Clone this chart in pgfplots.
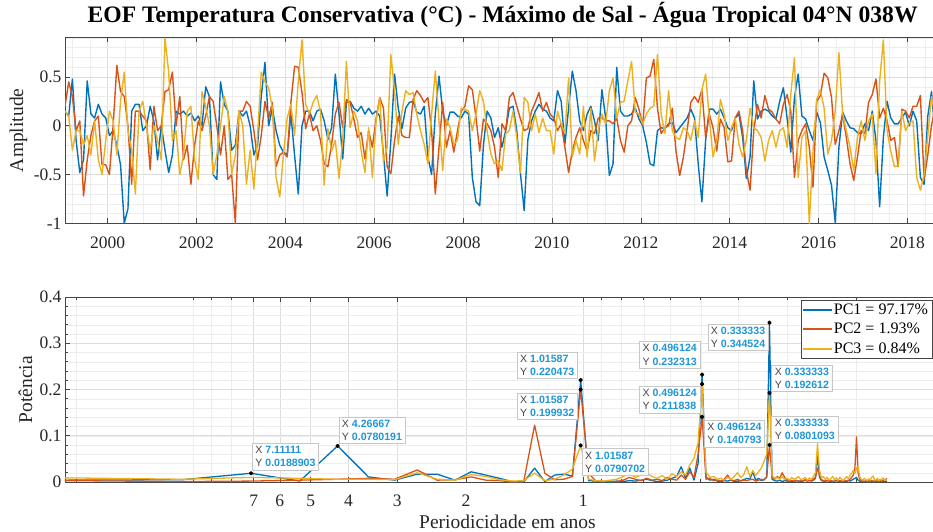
\documentclass[border=0pt]{standalone}
\usepackage{fontspec}
\setmainfont{Liberation Serif}
\setsansfont{Liberation Sans}
\usepackage{pgfplots}
\usepackage{pgfplotstable}
\pgfplotsset{compat=1.18}

\definecolor{pcblue}{RGB}{0,114,189}
\definecolor{pcred}{RGB}{217,83,25}
\definecolor{pcyellow}{RGB}{237,177,32}
\definecolor{gridmaj}{RGB}{221,221,221}
\definecolor{gridmin}{RGB}{237,237,237}
\definecolor{axgray}{RGB}{70,70,70}
\definecolor{tipblue}{RGB}{30,150,215}
\definecolor{tipgray}{RGB}{70,70,70}

% monthly principal components, m = 0 is Jan 1999
\pgfplotstableread{
m pc1 pc2 pc3
0 0.15 0.2 0.15
1 0.1 0.45 0.1
2 0.48 0.3 -0.25
3 -0.15 -0.05 -0.05
4 -0.48 0.05 -0.05
5 -0.35 -0.72 -0.2
6 0.46 -0.35 -0.1
7 0.12 -0.1 -0.3
8 0.08 0.05 0.05
9 0.22 0.1 -0.35
10 0.12 -0.4 -0.5
11 0.08 -0.4 -0.15
12 -0.1 -0.5 0.15
13 -0.05 0.0 0.05
14 -0.2 0.62 -0.3
15 -0.4 0.35 0.25
16 -1.0 0.3 0.55
17 -0.85 0.0 -0.05
18 0.15 -0.6 -0.25
19 0.22 0.15 -0.7
20 0.22 0.15 0.15
21 -0.05 0.1 0.25
22 0.0 0.05 0.0
23 0.2 -0.45 -0.25
24 0.05 0.2 0.0
25 -0.35 -0.05 -0.15
26 0.0 0.0 -0.35
27 -0.25 0.35 0.9
28 -0.48 0.37 0.55
29 -0.3 0.55 -0.15
30 0.15 0.0 -0.05
31 0.12 0.3 -0.5
32 0.15 -0.35 -0.3
33 0.1 -0.2 0.15
34 0.13 -0.6 0.2
35 0.05 -0.2 -0.35
36 0.1 0.05 -0.55
37 0.0 -0.05 0.35
38 0.4 0.1 0.2
39 0.3 0.3 0.0
40 -0.5 0.25 -0.5
41 -0.55 0.0 -0.3
42 0.45 -0.3 0.0
43 0.22 0.0 0.3
44 0.15 -0.55 0.15
45 -0.25 -0.5 -0.5
46 -0.2 -1.0 -0.3
47 0.15 0.15 0.15
48 0.1 0.15 0.0
49 0.15 0.25 -0.6
50 0.0 0.2 -0.25
51 -0.3 -0.05 -0.65
52 -0.2 -0.35 -0.1
53 0.3 -0.1 0.55
54 0.65 0.25 0.45
55 0.0 0.08 0.39
56 0.18 0.24 0.18
57 -0.05 -0.42 -0.53
58 -0.2 -0.3 -0.73
59 -0.27 -0.27 -0.29
60 -0.3 -0.32 0.08
61 0.12 0.24 0.22
62 -0.3 0.61 -0.1
63 -0.7 0.6 0.46
64 0.0 0.34 0.88
65 0.15 -0.03 0.22
66 0.15 0.12 0.12
67 0.05 -0.05 0.24
68 0.15 0.0 0.31
69 0.17 -0.15 0.14
70 0.05 -0.39 -0.61
71 -0.14 -0.42 -0.03
72 -0.02 -0.19 -0.26
73 0.53 0.12 -0.15
74 0.12 0.24 -0.54
75 -0.34 -0.02 -0.14
76 0.24 0.27 0.66
77 0.25 0.24 -0.02
78 0.18 0.07 0.15
79 0.15 -0.12 0.05
80 0.2 -0.07 -0.26
81 0.12 -0.34 -0.48
82 0.18 -0.05 -0.02
83 0.12 -0.22 -0.53
84 0.15 0.07 0.05
85 0.1 0.29 0.29
86 -0.29 0.18 -0.37
87 -0.72 -0.42 -0.22
88 -0.15 -0.49 0.73
89 0.53 -0.15 0.36
90 0.18 0.1 -0.19
91 -0.03 -0.1 0.15
92 0.18 -0.12 0.36
93 0.24 -0.12 0.32
94 0.25 0.27 0.34
95 0.14 0.36 0.12
96 0.12 0.31 -0.05
97 0.2 0.24 -0.19
98 -0.32 0.29 -0.39
99 -0.5 -0.05 0.12
100 0.12 -0.7 0.56
101 0.51 -0.22 0.05
102 0.15 0.24 -0.46
103 0.0 -0.22 0.07
104 0.14 -0.05 -0.02
105 0.14 -0.27 -0.19
106 0.1 -0.05 -0.15
107 0.08 0.15 0.18
108 0.15 0.2 0.17
109 0.12 0.41 0.15
110 -0.53 0.37 -0.05
111 -0.78 0.08 0.12
112 -0.82 -0.26 0.36
113 -0.2 0.07 0.25
114 0.15 0.02 -0.05
115 0.08 -0.05 -0.29
116 -0.12 -0.22 -0.39
117 -0.02 -0.53 -0.36
118 -0.22 0.02 -0.46
119 -0.05 -0.05 -0.08
120 0.18 0.29 -0.05
121 0.2 0.34 0.15
122 -0.05 0.2 -0.12
123 -0.49 0.07 -0.48
124 -0.87 -0.05 0.29
125 -0.14 -0.03 0.24
126 0.05 0.15 -0.05
127 0.15 0.24 0.12
128 0.22 0.34 -0.07
129 0.17 0.15 0.08
130 0.15 0.24 -0.05
131 0.08 0.12 -0.05
132 0.05 0.08 -0.29
133 0.36 -0.05 0.15
134 0.25 0.02 0.02
135 -0.19 -0.22 -0.08
136 0.18 -0.48 0.49
137 0.56 -0.26 -0.32
138 0.36 -0.12 -0.15
139 0.05 -0.02 -0.29
140 -0.05 -0.15 0.2
141 0.12 -0.26 -0.32
142 0.2 -0.05 0.18
143 0.05 -0.08 -0.36
144 -0.15 0.08 -0.05
145 0.37 0.08 0.12
146 0.08 0.05 0.02
147 -0.51 0.05 0.36
148 -0.39 0.02 0.49
149 0.6 0.08 0.08
150 0.15 -0.15 0.24
151 0.1 -0.27 0.25
152 0.1 0.0 0.46
153 0.12 0.05 0.66
154 0.18 0.29 0.14
155 0.07 0.17 0.12
156 0.0 0.0 0.02
157 -0.17 0.49 0.12
158 -0.39 0.51 0.18
159 -0.41 0.68 0.2
160 -0.05 0.18 0.73
161 -0.02 -0.08 0.12
162 -0.03 -0.02 -0.08
163 0.02 0.0 0.36
164 0.03 0.18 -0.05
165 -0.07 -0.26 -0.12
166 -0.02 -0.51 -0.14
167 0.03 -0.32 -0.02
168 0.08 -0.05 -0.05
169 0.17 0.24 -0.15
170 0.08 0.3 0.05
171 -0.39 0.24 -0.12
172 -0.78 0.37 0.37
173 -0.15 -0.12 0.53
174 0.17 0.12 0.08
175 0.17 -0.02 -0.32
176 0.12 -0.26 -0.15
177 0.17 0.07 0.27
178 0.08 -0.02 0.12
179 -0.02 -0.37 -0.15
180 -0.05 -0.36 -0.02
181 0.08 0.08 0.08
182 0.12 0.15 -0.19
183 -0.12 -0.05 -0.32
184 -0.54 -0.46 -0.15
185 -0.32 -0.66 0.18
186 0.46 -0.05 -0.02
187 0.07 0.22 -0.05
188 0.15 0.08 -0.12
189 0.17 0.31 -0.36
190 0.15 0.17 -0.15
191 0.1 0.14 -0.05
192 0.07 0.07 -0.22
193 0.25 0.02 -0.05
194 0.39 0.22 -0.02
195 0.08 0.32 -0.22
196 -0.27 0.15 0.32
197 0.29 -0.53 0.7
198 0.53 -0.15 -0.53
199 0.1 -0.05 -0.12
200 0.07 0.02 -0.05
201 -0.05 -0.22 -1.0
202 -0.15 -0.63 -0.26
203 0.14 0.25 0.27
204 0.03 0.31 0.37
205 -0.32 0.54 0.18
206 -0.46 0.49 -0.29
207 -0.61 0.29 -0.15
208 -0.99 -0.19 0.15
209 -0.22 -0.05 0.75
210 0.14 0.12 0.12
211 0.05 -0.12 -0.05
212 -0.02 -0.39 -0.22
213 -0.03 -0.56 -0.46
214 -0.07 -0.32 -0.12
215 -0.08 -0.05 0.05
216 0.02 -0.08 -0.15
217 -0.05 0.24 0.05
218 0.15 0.32 0.12
219 -0.15 0.48 -0.49
220 -0.83 0.08 0.46
221 -0.12 0.18 0.88
222 0.25 0.05 -0.05
223 0.08 -0.15 -0.26
224 0.02 -0.12 -0.42
225 0.02 -0.42 -0.41
226 0.08 0.17 0.15
227 0.14 0.15 -0.05
228 0.0 0.08 0.03
229 0.15 0.2 0.05
230 0.05 0.2 -0.53
231 -0.53 0.31 -0.66
232 -0.6 -0.55 -0.5
233 0.1 -0.3 -0.1
234 0.35 0.0 0.3
235 -0.1 0.2 0.1
236 0.05 0.1 -0.1
237 0.1 -0.1 0.05
238 0.0 0.05 0.1
239 0.1 0.0 -0.05
}\pcseries

% power spectrum, f in cycles per year (period = 1/f)
\pgfplotstableread{
f pc1 pc2 pc3
0.046875 0.004 0.003 0.009
0.09375 0.005 0.001 0.006
0.140625 0.0188903 0.002 0.010
0.1875 0.002 0.004 0.008
0.234375 0.0780191 0.006 0.006
0.28125 0.011 0.008 0.006
0.328125 0.004 0.006 0.005
0.375 0.017 0.026 0.020
0.421875 0.017 0.004 0.006
0.46875 0.004 0.005 0.004
0.515625 0.022 0.011 0.016
0.5625 0.015 0.004 0.012
0.609375 0.008 0.003 0.005
0.65625 0.001 0.000 0.002
0.703125 0.000 0.001 0.003
0.75 0.030 0.123 0.019
0.796875 0.001 0.019 0.003
0.84375 0.015 0.005 0.006
0.890625 0.017 0.006 0.015
0.9375 0.013 0.012 0.028
0.984375 0.220473 0.199932 0.0790702
1.03125 0.003 0.018 0.006
1.078125 0.002 0.002 0.003
1.125 0.001 0.001 0.002
1.171875 0.000 0.002 0.004
1.21875 0.002 0.001 0.006
1.265625 0.001 0.004 0.012
1.3125 0.003 0.010 0.018
1.359375 0.002 0.006 0.010
1.40625 0.004 0.003 0.015
1.453125 0.006 0.008 0.020
1.5 0.003 0.004 0.012
1.546875 0.001 0.006 0.008
1.59375 0.002 0.003 0.014
1.640625 0.004 0.010 0.006
1.6875 0.008 0.006 0.018
1.734375 0.012 0.004 0.012
1.78125 0.033 0.015 0.022
1.828125 0.008 0.006 0.015
1.875 0.030 0.022 0.037
1.921875 0.004 0.010 0.051
1.96875 0.040 0.060 0.085
2.015625 0.232313 0.140793 0.211838
2.0625 0.011 0.006 0.022
2.109375 0.004 0.008 0.010
2.15625 0.006 0.003 0.012
2.203125 0.002 0.005 0.006
2.25 0.001 0.002 0.008
2.296875 0.003 0.006 0.004
2.34375 0.002 0.015 0.010
2.390625 0.004 0.004 0.006
2.4375 0.001 0.003 0.012
2.484375 0.002 0.006 0.020
2.53125 0.003 0.002 0.010
2.578125 0.005 0.004 0.016
2.625 0.008 0.003 0.033
2.671875 0.006 0.005 0.012
2.71875 0.022 0.006 0.025
2.765625 0.004 0.002 0.014
2.8125 0.008 0.004 0.022
2.859375 0.003 0.006 0.030
2.90625 0.006 0.004 0.045
2.953125 0.010 0.012 0.060
3.0 0.344524 0.0801093 0.192612
3.046875 0.006 0.010 0.015
3.09375 0.003 0.006 0.008
3.140625 0.002 0.012 0.010
3.1875 0.004 0.008 0.006
3.234375 0.001 0.020 0.012
3.28125 0.003 0.010 0.005
3.328125 0.002 0.004 0.008
3.375 0.001 0.002 0.004
3.421875 0.002 0.003 0.010
3.46875 0.001 0.002 0.006
3.515625 0.003 0.004 0.008
3.5625 0.002 0.001 0.012
3.609375 0.001 0.003 0.005
3.65625 0.002 0.002 0.007
3.703125 0.004 0.005 0.010
3.75 0.002 0.002 0.004
3.796875 0.003 0.004 0.009
3.84375 0.002 0.003 0.006
3.890625 0.004 0.006 0.012
3.9375 0.008 0.010 0.020
3.984375 0.060 0.030 0.083
4.03125 0.010 0.015 0.025
4.078125 0.003 0.005 0.008
4.125 0.002 0.003 0.012
4.171875 0.001 0.002 0.006
4.21875 0.003 0.004 0.010
4.265625 0.002 0.002 0.004
4.3125 0.001 0.003 0.008
4.359375 0.002 0.001 0.012
4.40625 0.001 0.002 0.005
4.453125 0.003 0.004 0.009
4.5 0.002 0.002 0.004
4.546875 0.001 0.003 0.010
4.59375 0.002 0.001 0.006
4.640625 0.001 0.002 0.003
4.6875 0.002 0.003 0.008
4.734375 0.001 0.002 0.012
4.78125 0.003 0.004 0.006
4.828125 0.002 0.006 0.015
4.875 0.004 0.010 0.020
4.921875 0.006 0.015 0.025
4.96875 0.008 0.030 0.018
5.015625 0.010 0.098 0.030
5.0625 0.004 0.020 0.035
5.109375 0.002 0.006 0.012
5.15625 0.001 0.003 0.006
5.203125 0.002 0.002 0.004
5.25 0.001 0.001 0.008
5.296875 0.002 0.003 0.005
5.34375 0.001 0.002 0.003
5.390625 0.003 0.004 0.007
5.4375 0.002 0.002 0.004
5.484375 0.001 0.003 0.010
5.53125 0.002 0.001 0.013
5.578125 0.001 0.002 0.005
5.625 0.002 0.003 0.004
5.671875 0.001 0.002 0.008
5.71875 0.002 0.001 0.003
5.765625 0.001 0.004 0.006
5.8125 0.003 0.002 0.004
5.859375 0.001 0.003 0.009
5.90625 0.002 0.006 0.005
5.953125 0.001 0.004 0.003
6.0 0.002 0.008 0.006
}\spectrum

\pgfplotsset{
  matlab/.style={
    scale only axis,
    axis line style={axgray, line width=0.6pt},
    tick style={axgray, line width=0.6pt},
    major tick length=5pt,
    tick align=inside,
    ticklabel style={font=\fontsize{17.5}{18}\selectfont, text=black!85},
    label style={font=\fontsize{19.5}{20}\selectfont, text=black!85},
    grid=both,
    major grid style={gridmaj, line width=0.6pt},
    minor grid style={gridmin, line width=0.5pt},
    /pgf/number format/assume math mode=true,
    every axis plot/.append style={line width=1.4pt, line join=round},
  },
}
\tikzset{
  tipbox/.style={draw=black!22, line width=0.6pt, fill=white, fill opacity=0.92,
    text opacity=1, inner sep=3pt, align=left, text=tipgray,
    font=\sffamily\fontsize{10.6}{13.2}\selectfont},
}
\newcommand{\tv}[1]{\textcolor{tipblue}{\textbf{#1}}}

\begin{document}
\begin{tikzpicture}

% top panel: time series
\begin{axis}[
  matlab,
  at={(65pt,-223.3pt)}, anchor=south west,
  width=885pt, height=186pt,
  xmin=0, xmax=239, ymin=-1, ymax=0.907,
  xtick={11.5,35.5,...,227.5},
  xticklabels={2000,2002,2004,2006,2008,2010,2012,2014,2016,2018},
  minor xtick={1.9,6.7,...,237.1},
  ytick={-1,-0.5,0,0.5},
  minor ytick={-0.9,-0.8,...,0.9},
  minor tick length=0pt,
  xticklabel style={anchor=base, yshift=-25pt},
  ylabel={Amplitude},
  ylabel style={at={(axis description cs:-0.0525,0.5)}, anchor=center},
  title={EOF Temperatura Conservativa (°C) - Máximo de Sal - Água Tropical 04°N 038W},
  title style={at={(axis description cs:0.4945,1)}, anchor=base, yshift=9pt,
    inner sep=0pt, font=\bfseries\fontsize{23.6}{24}\selectfont},
]
\addplot[pcblue] table[x=m, y=pc1] {\pcseries};
\addplot[pcred] table[x=m, y=pc2] {\pcseries};
\addplot[pcyellow] table[x=m, y=pc3] {\pcseries};
\end{axis}

% bottom panel: power spectrum against period
\begin{axis}[
  matlab,
  at={(65pt,-482pt)}, anchor=south west,
  width=885pt, height=185pt,
  xmode=log, xmin=0.046875, xmax=8.71,
  ymin=0, ymax=0.4,
  xtick={0.142857,0.166667,0.2,0.25,0.333333,0.5,1},
  xticklabels={7,6,5,4,3,2,1},
  minor xtick={0.05,0.1,0.111111,0.125,1.111111,1.25,1.428571,1.666667,2,2.5,3.333333,5},
  ytick={0,0.1,0.2,0.3,0.4},
  minor ytick={0.02,0.04,...,0.38},
  minor tick length=3pt,
  xticklabel style={anchor=base, yshift=-24pt},
  xlabel={Periodicidade em anos},
  xlabel style={at={(axis description cs:0.5,0)}, anchor=base, yshift=-46pt, inner sep=0pt},
  ylabel={Potência},
  ylabel style={at={(axis description cs:-0.0446,0.5)}, anchor=center},
  every axis plot/.append style={line width=1.3pt},
  legend style={at={(axis description cs:0.9797,0.9838)}, anchor=north east,
    draw=axgray, fill=white,
    font=\fontsize{16}{18}\selectfont, inner xsep=2pt, inner ysep=2pt,
    row sep=3pt, cells={anchor=west}},
  legend image code/.code={\fill[#1, draw=none] (0pt,-1pt) rectangle (29pt,1pt);},
]
\addplot[pcblue] table[x=f, y=pc1] {\spectrum};
\addlegendentry{PC1 = 97.17\%}
\addplot[pcred] table[x=f, y=pc2] {\spectrum};
\addlegendentry{PC2 = 1.93\%}
\addplot[pcyellow] table[x=f, y=pc3] {\spectrum};
\addlegendentry{PC3 = 0.84\%}
\addplot[only marks, mark=*, mark size=1.5pt, black, forget plot] coordinates {
  (0.140625,0.0188903) (0.234375,0.0780191)
  (0.984375,0.220473) (0.984375,0.199932) (0.984375,0.0790702)
  (2.015625,0.232313) (2.015625,0.211838) (2.015625,0.140793)
  (3.0,0.344524) (3.0,0.192612) (3.0,0.0801093)};
\node[tipbox, anchor=south west, xshift=1pt, yshift=3pt] at (axis cs:0.140625,0.0188903) {X \tv{7.11111}\\Y \tv{0.0188903}};
\node[tipbox, anchor=south west, xshift=1pt, yshift=2pt] at (axis cs:0.234375,0.0780191) {X \tv{4.26667}\\Y \tv{0.0780191}};
\node[tipbox, anchor=south east, xshift=-3pt, yshift=1pt] at (axis cs:0.984375,0.220473) {X \tv{1.01587}\\Y \tv{0.220473}};
\node[tipbox, anchor=north east, xshift=-3pt, yshift=-3pt] at (axis cs:0.984375,0.199932) {X \tv{1.01587}\\Y \tv{0.199932}};
\node[tipbox, anchor=north west, xshift=1pt, yshift=-3pt] at (axis cs:0.984375,0.0790702) {X \tv{1.01587}\\Y \tv{0.0790702}};
\node[tipbox, anchor=south east, xshift=-2pt, yshift=6pt] at (axis cs:2.015625,0.232313) {X \tv{0.496124}\\Y \tv{0.232313}};
\node[tipbox, anchor=north east, xshift=-2pt, yshift=-2pt] at (axis cs:2.015625,0.211838) {X \tv{0.496124}\\Y \tv{0.211838}};
\node[tipbox, anchor=north west, xshift=2pt, yshift=-3pt] at (axis cs:2.015625,0.140793) {X \tv{0.496124}\\Y \tv{0.140793}};
\node[tipbox, anchor=north east, xshift=-1pt, yshift=-1pt] at (axis cs:3.0,0.344524) {X \tv{0.333333}\\Y \tv{0.344524}};
\node[tipbox, anchor=south west, xshift=2pt, yshift=1pt] at (axis cs:3.0,0.192612) {X \tv{0.333333}\\Y \tv{0.192612}};
\node[tipbox, anchor=south west, xshift=2pt, yshift=2pt] at (axis cs:3.0,0.0801093) {X \tv{0.333333}\\Y \tv{0.0801093}};
\end{axis}

\pgfresetboundingbox
\useasboundingbox (0pt,0pt) rectangle (933pt,-531pt);
\end{tikzpicture}
\end{document}
